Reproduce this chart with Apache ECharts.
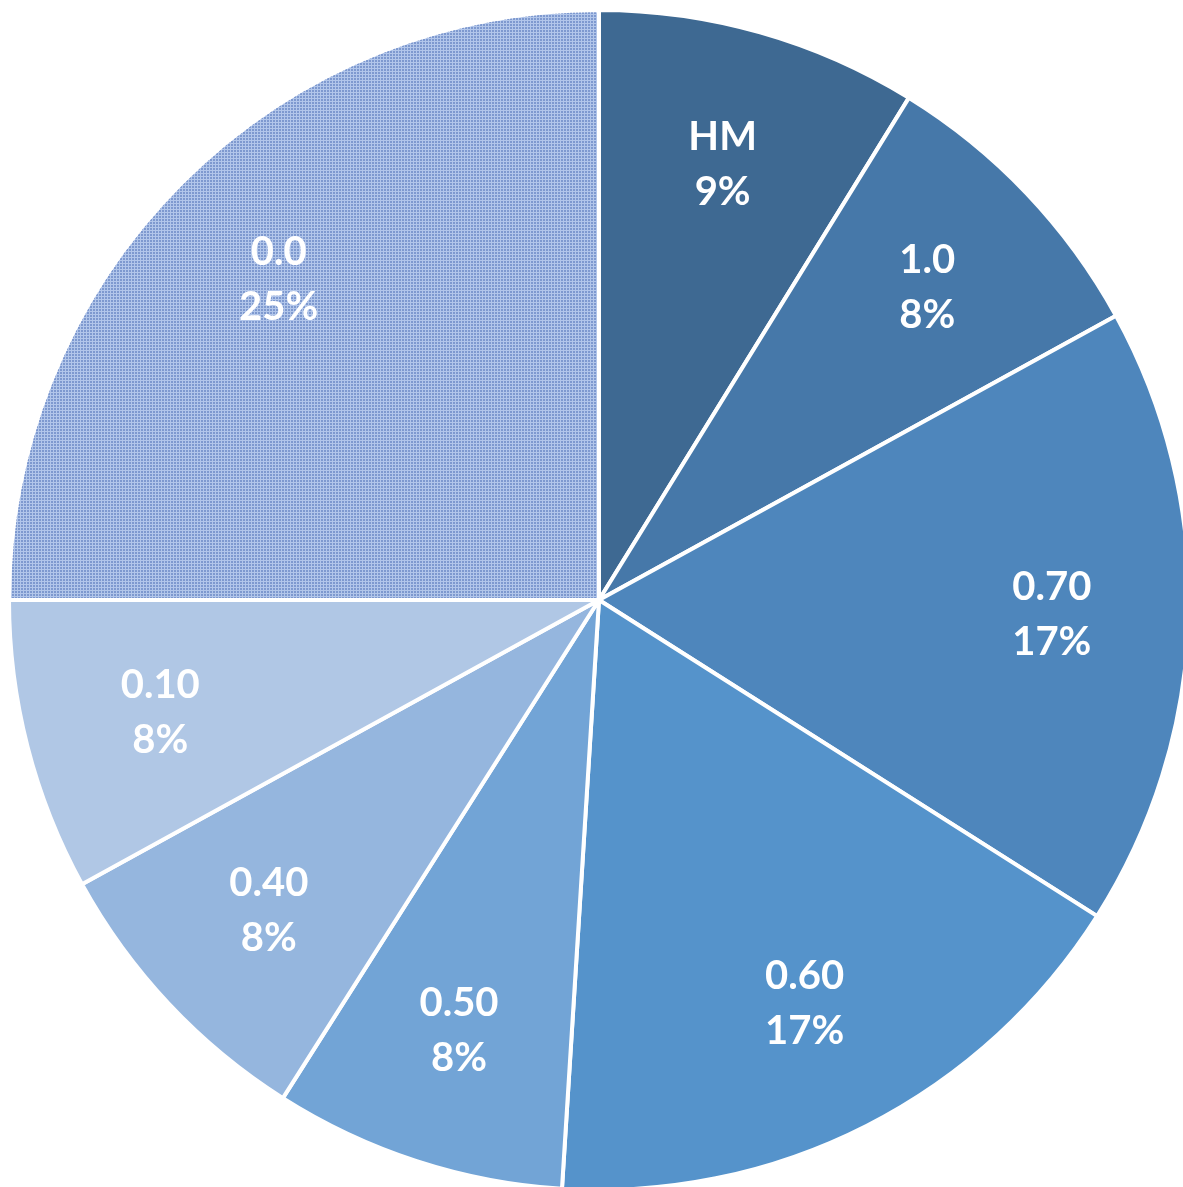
<!DOCTYPE html>
<html>
<head>
<meta charset="utf-8">
<script src="https://cdn.jsdelivr.net/npm/echarts@6/dist/echarts.min.js"></script>
<style>html,body{margin:0;padding:0;background:#fff}#c{width:1183px;height:1187px}</style>
</head>
<body>
<div id="c"></div>
<script>
const categories = ['HM', '1.0', '0.70', '0.60', '0.50', '0.40', '0.10', '0.0'];
const values = [8.8, 8.2, 17.0, 17.0, 8.0, 8.0, 8.0, 25.0];
const colors = ['#3E6992', '#4678A9', '#4E86BC', '#5593CB', '#72A4D6', '#95B6DE', '#B0C7E5', '#B2C6EA'];

const chart = echarts.init(document.getElementById('c'), null, {renderer: 'canvas'});
const pieData = categories.map((c, i) => ({
  name: c,
  value: values[i],
  itemStyle: i === 7 ? {
    color: colors[i],
    decal: {symbol: 'rect', symbolSize: 1, dashArrayX: [2, 1], dashArrayY: [2, 1], color: '#7E99CF', rotation: 0}
  } : {color: colors[i]}
}));
const labelData = categories.map((c, i) => ({name: c, value: values[i]}));

chart.setOption({
  animation: false,
  series: [
    {
      type: 'pie',
      center: [599, 600],
      radius: [0, 590],
      startAngle: 90,
      clockwise: true,
      data: pieData,
      itemStyle: {borderColor: '#ffffff', borderWidth: 4},
      label: {show: false},
      labelLine: {show: false},
      emphasis: {disabled: true}
    },
    {
      type: 'pie',
      center: [599, 600],
      radius: [310, 590],
      startAngle: 90,
      clockwise: true,
      silent: true,
      data: labelData,
      itemStyle: {color: 'rgba(0,0,0,0)'},
      label: {
        show: true,
        position: 'inside',
        formatter: p => p.name + '\n' + Math.round(p.percent) + '%',
        color: '#ffffff',
        fontFamily: 'Lato',
        fontWeight: 'bold',
        fontSize: 40,
        lineHeight: 55
      },
      labelLine: {show: false},
      emphasis: {disabled: true}
    }
  ]
});
</script>
</body>
</html>
